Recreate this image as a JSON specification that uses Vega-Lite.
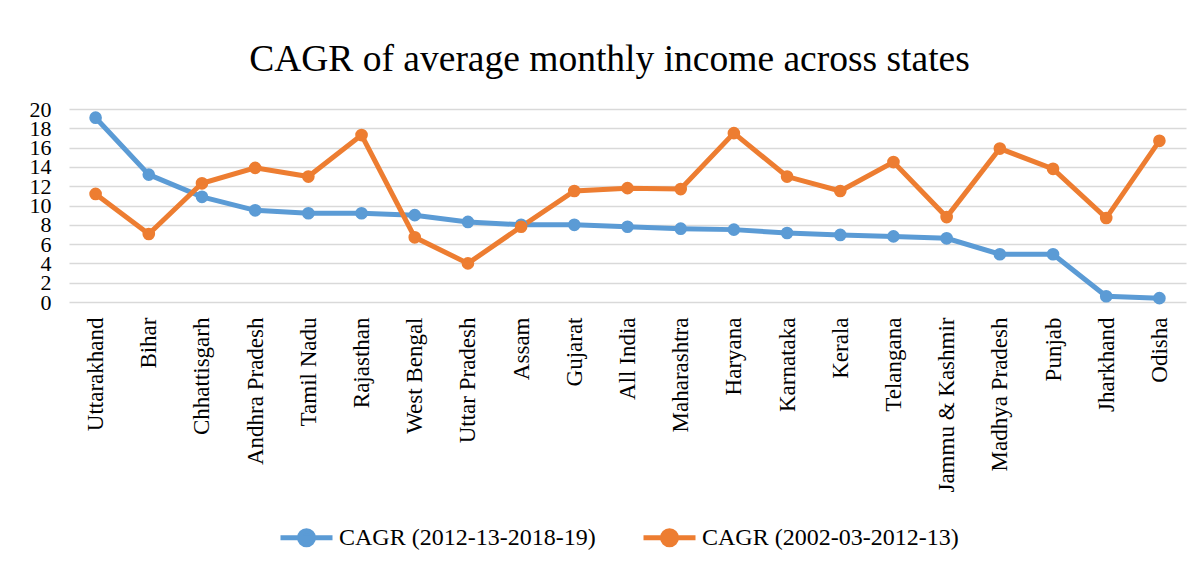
{
  "$schema": "https://vega.github.io/schema/vega-lite/v6.json",
  "width": 1117,
  "height": 193,
  "autosize": {"type": "none"},
  "padding": {"left": 69, "top": 109, "right": 18, "bottom": 266},
  "background": "white",
  "title": {
    "text": "CAGR of average monthly income across states",
    "font": "Liberation Serif",
    "fontSize": 37.5,
    "fontWeight": "normal",
    "color": "black",
    "anchor": "middle",
    "baseline": "alphabetic",
    "offset": -10,
    "dx": -18
  },
  "data": {
    "values": [
      {"state": "Uttarakhand", "series": "CAGR (2012-13-2018-19)", "v": 19.1},
      {"state": "Bihar", "series": "CAGR (2012-13-2018-19)", "v": 13.2},
      {"state": "Chhattisgarh", "series": "CAGR (2012-13-2018-19)", "v": 10.9},
      {"state": "Andhra Pradesh", "series": "CAGR (2012-13-2018-19)", "v": 9.5},
      {"state": "Tamil Nadu", "series": "CAGR (2012-13-2018-19)", "v": 9.2},
      {"state": "Rajasthan", "series": "CAGR (2012-13-2018-19)", "v": 9.2},
      {"state": "West Bengal", "series": "CAGR (2012-13-2018-19)", "v": 9.0},
      {"state": "Uttar Pradesh", "series": "CAGR (2012-13-2018-19)", "v": 8.3},
      {"state": "Assam", "series": "CAGR (2012-13-2018-19)", "v": 8.0},
      {"state": "Gujarat", "series": "CAGR (2012-13-2018-19)", "v": 8.0},
      {"state": "All India", "series": "CAGR (2012-13-2018-19)", "v": 7.8},
      {"state": "Maharashtra", "series": "CAGR (2012-13-2018-19)", "v": 7.6},
      {"state": "Haryana", "series": "CAGR (2012-13-2018-19)", "v": 7.5},
      {"state": "Karnataka", "series": "CAGR (2012-13-2018-19)", "v": 7.15},
      {"state": "Kerala", "series": "CAGR (2012-13-2018-19)", "v": 6.95},
      {"state": "Telangana", "series": "CAGR (2012-13-2018-19)", "v": 6.8},
      {"state": "Jammu & Kashmir", "series": "CAGR (2012-13-2018-19)", "v": 6.6},
      {"state": "Madhya Pradesh", "series": "CAGR (2012-13-2018-19)", "v": 4.95},
      {"state": "Punjab", "series": "CAGR (2012-13-2018-19)", "v": 4.95},
      {"state": "Jharkhand", "series": "CAGR (2012-13-2018-19)", "v": 0.6},
      {"state": "Odisha", "series": "CAGR (2012-13-2018-19)", "v": 0.4},
      {"state": "Uttarakhand", "series": "CAGR (2002-03-2012-13)", "v": 11.2},
      {"state": "Bihar", "series": "CAGR (2002-03-2012-13)", "v": 7.05},
      {"state": "Chhattisgarh", "series": "CAGR (2002-03-2012-13)", "v": 12.3},
      {"state": "Andhra Pradesh", "series": "CAGR (2002-03-2012-13)", "v": 13.9},
      {"state": "Tamil Nadu", "series": "CAGR (2002-03-2012-13)", "v": 13.0},
      {"state": "Rajasthan", "series": "CAGR (2002-03-2012-13)", "v": 17.3},
      {"state": "West Bengal", "series": "CAGR (2002-03-2012-13)", "v": 6.7},
      {"state": "Uttar Pradesh", "series": "CAGR (2002-03-2012-13)", "v": 4.0},
      {"state": "Assam", "series": "CAGR (2002-03-2012-13)", "v": 7.8},
      {"state": "Gujarat", "series": "CAGR (2002-03-2012-13)", "v": 11.5},
      {"state": "All India", "series": "CAGR (2002-03-2012-13)", "v": 11.8},
      {"state": "Maharashtra", "series": "CAGR (2002-03-2012-13)", "v": 11.7},
      {"state": "Haryana", "series": "CAGR (2002-03-2012-13)", "v": 17.5},
      {"state": "Karnataka", "series": "CAGR (2002-03-2012-13)", "v": 13.0},
      {"state": "Kerala", "series": "CAGR (2002-03-2012-13)", "v": 11.5},
      {"state": "Telangana", "series": "CAGR (2002-03-2012-13)", "v": 14.5},
      {"state": "Jammu & Kashmir", "series": "CAGR (2002-03-2012-13)", "v": 8.8},
      {"state": "Madhya Pradesh", "series": "CAGR (2002-03-2012-13)", "v": 15.9},
      {"state": "Punjab", "series": "CAGR (2002-03-2012-13)", "v": 13.8},
      {"state": "Jharkhand", "series": "CAGR (2002-03-2012-13)", "v": 8.7},
      {"state": "Odisha", "series": "CAGR (2002-03-2012-13)", "v": 16.7}
    ]
  },
  "encoding": {
    "x": {
      "field": "state",
      "type": "nominal",
      "sort": null,
      "scale": {"paddingOuter": 0.5},
      "axis": {
        "title": null,
        "labelAngle": -90,
        "labelFont": "Liberation Serif",
        "labelFontSize": 23,
        "labelColor": "black",
        "labelPadding": 15,
        "ticks": false,
        "domain": false,
        "grid": false
      }
    },
    "y": {
      "field": "v",
      "type": "quantitative",
      "scale": {"domain": [0, 20], "nice": false},
      "axis": {
        "title": null,
        "values": [0, 2, 4, 6, 8, 10, 12, 14, 16, 18, 20],
        "labelFont": "Liberation Serif",
        "labelFontSize": 22,
        "labelColor": "black",
        "labelPadding": 18,
        "labelOverlap": false,
        "ticks": false,
        "domain": false,
        "grid": true,
        "gridColor": "#D9D9D9",
        "gridWidth": 1.5
      }
    },
    "color": {
      "field": "series",
      "type": "nominal",
      "scale": {
        "domain": ["CAGR (2012-13-2018-19)", "CAGR (2002-03-2012-13)"],
        "range": ["#5B9BD5", "#ED7D31"]
      },
      "legend": {
        "title": null,
        "orient": "none",
        "legendX": 209,
        "legendY": 400,
        "direction": "horizontal",
        "labelFont": "Liberation Serif",
        "labelFontSize": 24,
        "labelColor": "black",
        "labelLimit": 400,
        "columnPadding": 37,
        "symbolType": "M-1,0H1M-0.27,0A0.27,0.27,0,1,0,0.27,0A0.27,0.27,0,1,0,-0.27,0Z",
        "symbolSize": 2704,
        "symbolStrokeWidth": 5,
        "labelOffset": 4,
        "encode": {
          "symbols": {
            "update": {
              "fill": {"scale": "color", "field": "value"},
              "stroke": {"scale": "color", "field": "value"},
              "opacity": {"value": 1}
            }
          }
        }
      }
    }
  },
  "layer": [
    {"mark": {"type": "line", "strokeWidth": 5}},
    {"mark": {"type": "point", "filled": true, "size": 160, "opacity": 1, "shape": "circle"}}
  ],
  "config": {
    "view": {"stroke": null},
    "font": "Liberation Serif"
  }
}
